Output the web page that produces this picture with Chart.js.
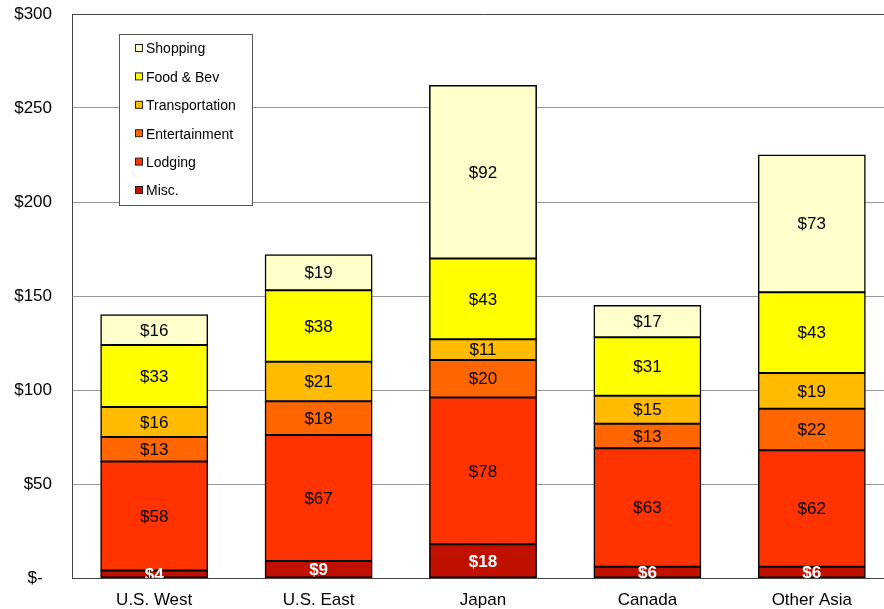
<!DOCTYPE html>
<html>
<head>
<meta charset="utf-8">
<script src="https://cdn.jsdelivr.net/npm/chart.js@4/dist/chart.umd.min.js"></script>
<style>
  html, body { margin: 0; padding: 0; background: #fff; overflow: hidden; }
  #wrap { width: 900px; height: 609px; }
</style>
</head>
<body>
<div id="wrap"><canvas id="grafico" width="900" height="609"></canvas></div>
<script>
const categories = ["U.S. West", "U.S. East", "Japan", "Canada", "Other Asia"];
const misc = [4, 9, 18, 6, 6];
const lodging = [58, 67, 78, 63, 62];
const entertainment = [13, 18, 20, 13, 22];
const transportation = [16, 21, 11, 15, 19];
const foodBev = [33, 38, 43, 31, 43];
const shopping = [16, 19, 92, 17, 73];

const seriesNames = ["Misc.", "Lodging", "Entertainment", "Transportation", "Food & Bev", "Shopping"];
const seriesValues = [misc, lodging, entertainment, transportation, foodBev, shopping];
const seriesColors = ["#C01000", "#FF3300", "#FF6600", "#FFBB00", "#FFFF00", "#FFFFCC"];

const yMax = 300;
const yStep = 50;

const fonte = "'Liberation Sans', Arial, sans-serif";

// rotulos dos valores dentro de cada segmento
const rotulosPlugin = {
    id: "rotulos",
    afterDatasetsDraw(chart) {
        const ctx = chart.ctx;
        const area = chart.chartArea;
        ctx.save();
        ctx.beginPath();
        ctx.rect(area.left, area.top, area.right - area.left, area.bottom - area.top);
        ctx.clip();
        ctx.textAlign = "center";
        ctx.textBaseline = "middle";
        chart.data.datasets.forEach((ds, i) => {
            const meta = chart.getDatasetMeta(i);
            const ehMisc = i === 0;
            ctx.fillStyle = ehMisc ? "#fff" : "#000";
            ctx.font = (ehMisc ? "bold " : "") + "17px " + fonte;
            meta.data.forEach((bar, j) => {
                const y = (bar.y + bar.base) / 2;
                ctx.fillText("$" + ds.data[j], bar.x, y + 1);
            });
        });
        ctx.restore();
    }
};

// legenda em caixa dentro da area do grafico
const legendaPlugin = {
    id: "legendaCaixa",
    afterDraw(chart) {
        const ctx = chart.ctx;
        const bx = 119.5, by = 34.5, bw = 133, bh = 171;
        ctx.save();
        ctx.fillStyle = "#fff";
        ctx.fillRect(bx, by, bw, bh);
        ctx.strokeStyle = "#555";
        ctx.lineWidth = 1;
        ctx.strokeRect(bx, by, bw, bh);
        ctx.font = "14px " + fonte;
        ctx.textAlign = "left";
        ctx.textBaseline = "middle";
        const n = chart.data.datasets.length;
        for (let k = 0; k < n; k++) {
            const ds = chart.data.datasets[n - 1 - k];
            const cy = 48.5 + k * 28.4;
            ctx.fillStyle = ds.backgroundColor;
            ctx.fillRect(135.5, cy - 4, 7, 7);
            ctx.strokeStyle = "#222";
            ctx.strokeRect(135.5, cy - 4, 7, 7);
            ctx.fillStyle = "#000";
            ctx.fillText(ds.label, 146, cy + 1);
        }
        ctx.restore();
    }
};

const ctx = document.getElementById("grafico").getContext("2d");
new Chart(ctx, {
    type: "bar",
    data: {
        labels: categories,
        datasets: seriesNames.map((nome, i) => ({
            label: nome,
            data: seriesValues[i],
            backgroundColor: seriesColors[i],
            borderColor: "#000",
            borderWidth: 1.5,
            borderSkipped: false,
            inflateAmount: 0.5,
            barPercentage: 0.65,
            categoryPercentage: 1
        }))
    },
    options: {
        responsive: false,
        animation: false,
        layout: { padding: { top: 14, right: 6, left: 0, bottom: 0 } },
        plugins: {
            legend: { display: false },
            tooltip: { enabled: false }
        },
        scales: {
            x: {
                stacked: true,
                grid: { display: false, drawTicks: false },
                border: { display: true, color: "#444", width: 1 },
                ticks: {
                    color: "#000",
                    font: { family: fonte, size: 17 },
                    padding: 12
                },
                afterFit(scale) { scale.height = 31; }
            },
            y: {
                stacked: true,
                min: 0,
                max: yMax,
                grid: {
                    drawTicks: false,
                    color: c => (c.tick.value === 0 || c.tick.value === yMax) ? "#444" : "#999",
                    lineWidth: 1
                },
                border: { display: true, color: "#444", width: 1 },
                ticks: {
                    stepSize: yStep,
                    color: "#000",
                    padding: 20,
                    font: { family: fonte, size: 17 },
                    callback: v => v === 0 ? "$-  " : "$" + v
                },
                afterFit(scale) {
                    scale.width = 72;
                    scale.paddingTop = 0;
                    scale.paddingBottom = 0;
                }
            }
        }
    },
    plugins: [rotulosPlugin, legendaPlugin]
});
</script>
</body>
</html>
